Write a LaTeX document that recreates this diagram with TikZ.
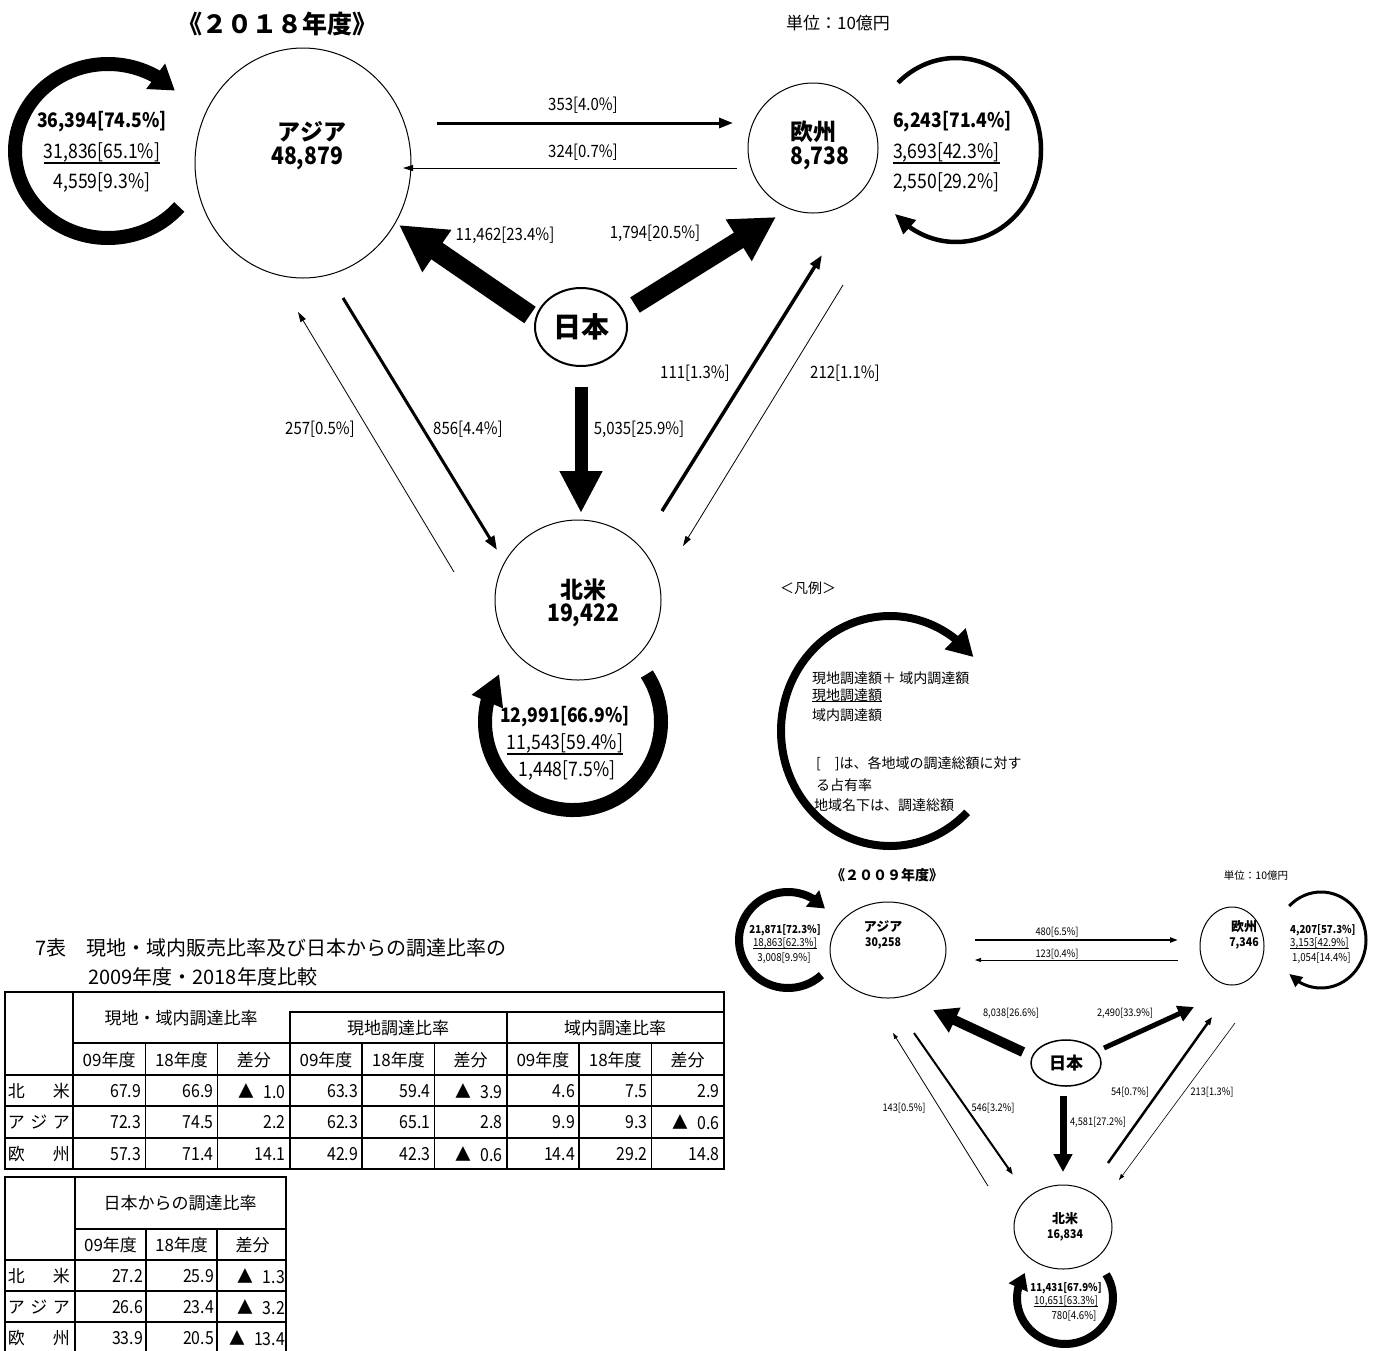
\documentclass[tikz,border=0pt]{standalone}
\usepackage{fontspec}
\usepackage{tikz}
\usetikzlibrary{arrows.meta, bending, shapes.geometric}
\setmainfont{Noto Sans CJK JP}
\newfontfamily\numfont[FakeStretch=0.88]{Noto Sans CJK JP}
\newcommand{\fsz}[1]{\fontsize{#1}{#1}\selectfont}
\newcommand{\dn}{▲\enskip}

\begin{document}
\begin{tikzpicture}[x=1pt, y=-1pt,
        region/.style={draw, ellipse, inner sep=0pt, line width=1pt},
        flow/.style n args={3}{line width=#1, -{Triangle[length=#2, width=#3]}},
        ulLine/.style={line width=1.8pt},
        tabLine/.style={line width=1.6pt},
        tabOuter/.style={line width=2.6pt},
        nameTxt/.style={inner sep=0pt, font={\bfseries\fsz{23}}},
        valTxt/.style={inner sep=0pt, font={\numfont\bfseries\fsz{24}}},
        edgeLbl/.style={inner sep=0pt, font={\numfont\fsz{17}}},
        loopTxt/.style={inner sep=0pt, font={\numfont\fsz{20}}},
        loopBold/.style={inner sep=0pt, font={\numfont\bfseries\fsz{20}}},
        smallName/.style={inner sep=0pt, font={\bfseries\fsz{13}}},
        smallVal/.style={inner sep=0pt, font={\numfont\bfseries\fsz{12}}},
        smallLbl/.style={inner sep=0pt, font={\numfont\fsz{10.5}}},
        smallLoop/.style={inner sep=0pt, font={\numfont\fsz{11}}},
        smallBold/.style={inner sep=0pt, font={\numfont\bfseries\fsz{11}}},
        legendTxt/.style={inner sep=0pt, anchor=west, font=\fsz{14}},
        tabTxt/.style={inner sep=0pt, font=\fsz{17}},
        tabNum/.style={inner sep=0pt, anchor=east, font={\numfont\fsz{18}}}
    ]
        \useasboundingbox (0,0) rectangle (1381,1350);

        % ---------- 2018 ----------
        \node[inner sep=0pt, font={\bfseries\fsz{25}}] (title18) at (277,24) {《２０１８年度》};
        \node[inner sep=0pt, font=\fsz{17}] (unit18) at (838,23) {単位：10億円};

        % Regions
        \node[region, minimum width=216pt, minimum height=230pt] (asia) at (303,163) {};
        \node[region, minimum width=130pt, minimum height=130pt] (eu) at (813,148) {};
        \node[region, line width=2pt, minimum width=92pt, minimum height=78pt, font={\bfseries\fsz{28}}] (jp) at (581,327) {日本};
        \node[region, minimum width=166pt, minimum height=160pt] (na) at (578,600) {};

        \node[nameTxt] (asiaN) at (312,132) {アジア};
        \node[valTxt] (asiaV) at (307,158) {48,879};
        \node[nameTxt] (euN) at (813,132) {欧州};
        \node[valTxt] (euV) at (820,158) {8,738};
        \node[nameTxt] (naN) at (583,590) {北米};
        \node[valTxt] (naV) at (583,615) {19,422};

        % Flows from Japan and between regions
        \draw[flow={20pt}{46pt}{48pt}] ([shift={(-51,-12)}]jp.center) -- ([shift={(96,62)}]asia.center);
        \draw[flow={18pt}{44pt}{46pt}] ([shift={(54,-22)}]jp.center) -- ([shift={(-37,69)}]eu.center);
        \draw[flow={13pt}{42pt}{40pt}] ([shift={(0,60)}]jp.center) -- ([shift={(3,-87)}]na.center);
        \draw[flow={3pt}{14pt}{10pt}] ([shift={(134,-40)}]asia.center) -- ([shift={(-80,-25)}]eu.center);
        \draw[flow={1pt}{10pt}{6pt}] ([shift={(-76,20)}]eu.center) -- ([shift={(100,5)}]asia.center);
        \draw[flow={3pt}{14pt}{10pt}] ([shift={(40,135)}]asia.center) -- ([shift={(-81,-50)}]na.center);
        \draw[flow={0.8pt}{10pt}{6pt}] ([shift={(-124,-28)}]na.center) -- ([shift={(-5,149)}]asia.center);
        \draw[flow={3.5pt}{14pt}{10pt}] ([shift={(84,-89)}]na.center) -- ([shift={(9,107)}]eu.center);
        \draw[flow={0.8pt}{10pt}{6pt}] ([shift={(30,137)}]eu.center) -- ([shift={(105,-54)}]na.center);

        \node[edgeLbl] (l1) at (505,235) {11,462[23.4\%]};
        \node[edgeLbl] (l2) at (655,233) {1,794[20.5\%]};
        \node[edgeLbl] (l3) at (639,429) {5,035[25.9\%]};
        \node[edgeLbl] (l4) at (583,105) {353[4.0\%]};
        \node[edgeLbl] (l5) at (583,152) {324[0.7\%]};
        \node[edgeLbl] (l6) at (468,429) {856[4.4\%]};
        \node[edgeLbl] (l7) at (320,429) {257[0.5\%]};
        \node[edgeLbl] (l8) at (695,373) {111[1.3\%]};
        \node[edgeLbl] (l9) at (845,373) {212[1.1\%]};

        % Loops (local + intra-regional)
        \draw[flow={14pt}{24pt}{30pt}] (108,151) ++(40:93 and 87) arc[start angle=40, end angle=316, x radius=93, y radius=87];
        \draw[flow={4.5pt}{20pt}{18pt}] (956,150) ++(227:85 and 92) arc[start angle=227, end angle=496, x radius=85, y radius=92];
        \draw[flow={14pt}{30pt}{32pt}] (573,722) ++(-33:88 and 88) arc[start angle=-33, end angle=213, x radius=88, y radius=88];

        \node[loopBold] (asiaL1) at (102,122) {36,394[74.5\%]};
        \node[loopTxt] (asiaL2) at (102,152) {31,836[65.1\%]};
        \node[loopTxt] (asiaL3) at (102,182) {4,559[9.3\%]};
        \draw[ulLine] ([yshift=-1pt]asiaL2.south west) -- ([yshift=-1pt]asiaL2.south east);

        \node[loopBold, anchor=west] (euL1) at (893,122) {6,243[71.4\%]};
        \node[loopTxt, anchor=west] (euL2) at (893,152) {3,693[42.3\%]};
        \node[loopTxt, anchor=west] (euL3) at (893,182) {2,550[29.2\%]};
        \draw[ulLine] ([yshift=-1pt]euL2.south west) -- ([yshift=-1pt]euL2.south east);

        \node[loopBold] (naL1) at (565,717) {12,991[66.9\%]};
        \node[loopTxt] (naL2) at (565,743) {11,543[59.4\%]};
        \node[loopTxt] (naL3) at (567,770) {1,448[7.5\%]};
        \draw[ulLine] ([yshift=-1pt]naL2.south west) -- ([yshift=-1pt]naL2.south east);

        % ---------- Legend ----------
        \node[inner sep=0pt, font=\fsz{14}] (lgHead) at (808,588) {＜凡例＞};
        \draw[flow={8pt}{26pt}{28pt}] (890,731) ++(45:109 and 115) arc[start angle=45, end angle=320, x radius=109, y radius=115];
        \node[legendTxt] (lg1) at (812,678) {現地調達額＋ 域内調達額};
        \node[legendTxt] (lg2) at (812,695) {現地調達額};
        \draw[line width=1.4pt] (lg2.south west) -- (lg2.south east);
        \node[legendTxt] (lg3) at (812,715) {域内調達額};
        \node[legendTxt] (lg4) at (816,764) {[　]は、各地域の調達総額に対す};
        \node[legendTxt] (lg5) at (816,785) {る占有率};
        \node[legendTxt] (lg6) at (814,805) {地域名下は、調達総額};

        % ---------- 2009 ----------
        \node[inner sep=0pt, font={\bfseries\fsz{14}}] (title09) at (887,875) {《２００９年度》};
        \node[inner sep=0pt, font=\fsz{10.5}] (unit09) at (1256,875) {単位：10億円};

        \node[region, minimum width=116pt, minimum height=96pt] (asia9) at (888,950) {};
        \node[region, minimum width=64pt, minimum height=78pt] (eu9) at (1232,946) {};
        \node[region, line width=1.5pt, minimum width=70pt, minimum height=46pt, font={\bfseries\fsz{17}}] (jp9) at (1066,1063) {日本};
        \node[region, minimum width=98pt, minimum height=84pt] (na9) at (1063,1227) {};

        \node[smallName] (asia9N) at (883,927) {アジア};
        \node[smallVal] (asia9V) at (883,943) {30,258};
        \node[smallName] (eu9N) at (1244,927) {欧州};
        \node[smallVal] (eu9V) at (1244,943) {7,346};
        \node[smallName] (na9N) at (1065,1219) {北米};
        \node[smallVal] (na9V) at (1065,1235) {16,834};

        \draw[flow={10pt}{24pt}{26pt}] ([shift={(-43,-11)}]jp9.center) -- ([shift={(45,60)}]asia9.center);
        \draw[flow={5pt}{16pt}{16pt}] ([shift={(38,-15)}]jp9.center) -- ([shift={(-38,61)}]eu9.center);
        \draw[flow={7pt}{18pt}{18pt}] ([shift={(-3,33)}]jp9.center) -- ([shift={(0,-55)}]na9.center);
        \draw[flow={2pt}{8pt}{5pt}] ([shift={(87,-10)}]asia9.center) -- ([shift={(-54,-6)}]eu9.center);
        \draw[flow={0.7pt}{6pt}{4pt}] ([shift={(-54,14)}]eu9.center) -- ([shift={(87,10)}]asia9.center);
        \draw[flow={2pt}{8pt}{5pt}] ([shift={(26,83)}]asia9.center) -- ([shift={(-50,-52)}]na9.center);
        \draw[flow={0.8pt}{6pt}{4pt}] ([shift={(-75,-41)}]na9.center) -- ([shift={(5,83)}]asia9.center);
        \draw[flow={2.5pt}{8pt}{6pt}] ([shift={(45,-64)}]na9.center) -- ([shift={(-20,71)}]eu9.center);
        \draw[flow={0.6pt}{6pt}{4pt}] ([shift={(3,77)}]eu9.center) -- ([shift={(56,-47)}]na9.center);

        \node[smallLbl] (m1) at (1057,932) {480[6.5\%]};
        \node[smallLbl] (m2) at (1057,954) {123[0.4\%]};
        \node[smallLbl] (m3) at (1011,1013) {8,038[26.6\%]};
        \node[smallLbl] (m4) at (1125,1013) {2,490[33.9\%]};
        \node[smallLbl] (m5) at (904,1108) {143[0.5\%]};
        \node[smallLbl] (m6) at (993,1108) {546[3.2\%]};
        \node[smallLbl] (m7) at (1098,1122) {4,581[27.2\%]};
        \node[smallLbl] (m8) at (1130,1092) {54[0.7\%]};
        \node[smallLbl] (m9) at (1212,1092) {213[1.3\%]};

        \draw[flow={8pt}{16pt}{20pt}] (788,940) ++(47:49 and 48) arc[start angle=47, end angle=319, x radius=49, y radius=48];
        \draw[flow={3pt}{13pt}{12pt}] (1321,940) ++(225:45 and 48) arc[start angle=225, end angle=495, x radius=45, y radius=48];
        \draw[flow={8pt}{16pt}{20pt}] (1065,1298) ++(-31:48 and 46) arc[start angle=-31, end angle=213, x radius=48, y radius=46];

        \node[smallBold] (asia9L1) at (785,930) {21,871[72.3\%]};
        \node[smallLoop] (asia9L2) at (785,943) {18,863[62.3\%]};
        \node[smallLoop] (asia9L3) at (784,958) {3,008[9.9\%]};
        \draw[line width=1pt] (asia9L2.south west) -- (asia9L2.south east);

        \node[smallBold, anchor=west] (eu9L1) at (1290,930) {4,207[57.3\%]};
        \node[smallLoop, anchor=west] (eu9L2) at (1290,943) {3,153[42.9\%]};
        \node[smallLoop, anchor=west] (eu9L3) at (1292,958) {1,054[14.4\%]};
        \draw[line width=1pt] (eu9L2.south west) -- (eu9L2.south east);

        \node[smallBold] (na9L1) at (1066,1288) {11,431[67.9\%]};
        \node[smallLoop] (na9L2) at (1066,1301) {10,651[63.3\%]};
        \node[smallLoop] (na9L3) at (1074,1316) {780[4.6\%]};
        \draw[line width=1pt] (na9L2.south west) -- (na9L2.south east);

        % ---------- Table 7 ----------
        \node[inner sep=0pt, anchor=west, font=\fsz{20}] (tabTitle1) at (35,948) {7表　現地・域内販売比率及び日本からの調達比率の};
        \node[inner sep=0pt, anchor=west, font=\fsz{20}] (tabTitle2) at (88,977) {2009年度・2018年度比較};

        \draw[tabOuter] (5,992) rectangle (724,1169);
        \draw[tabLine] (73,992) -- (73,1169);
        \draw[tabLine] (289,1012) -- (724,1012);
        \draw[tabLine] (73,1043) -- (724,1043);
        \foreach \yy in {1075,1106,1138}
            \draw[tabLine] (5,\yy) -- (724,\yy);
        \foreach \k in {1,2,4,5,7,8}
            \draw[tabLine] ({73+72.3*\k},1043) -- ({73+72.3*\k},1169);
        \foreach \k in {3,6}
            \draw[tabLine] ({73+72.3*\k},1012) -- ({73+72.3*\k},1169);

        \node[tabTxt] (t1g1) at (181,1018) {現地・域内調達比率};
        \node[tabTxt] (t1g2) at (398,1028) {現地調達比率};
        \node[tabTxt] (t1g3) at (615,1028) {域内調達比率};
        \foreach \h [count=\k] in {09年度,18年度,差分,09年度,18年度,差分,09年度,18年度,差分}
            \node[tabTxt] (t1h\k) at ({73+72.3*(\k-0.5)},1060) {\h};

        \foreach \yy/\lab/\vals [count=\r] in {
                1091/{北\hfill 米}/{67.9,66.9,\dn 1.0,63.3,59.4,\dn 3.9,4.6,7.5,2.9},
                1122/{ア\hfill ジ\hfill ア}/{72.3,74.5,2.2,62.3,65.1,2.8,9.9,9.3,\dn 0.6},
                1154/{欧\hfill 州}/{57.3,71.4,14.1,42.9,42.3,\dn 0.6,14.4,29.2,14.8}}{
            \node[tabTxt, text width=62pt, align=left] (t1lab\r) at (39,\yy) {\lab};
            \foreach \v [count=\k] in \vals
                \node[tabNum] (t1c\r-\k) at ({69+72.3*\k},\yy) {\v};
        }

        % Procurement from Japan
        \draw[tabOuter] (5,1177) rectangle (286,1353);
        \draw[tabLine] (75,1177) -- (75,1353);
        \draw[tabLine] (75,1229) -- (286,1229);
        \foreach \yy in {1260,1291,1322}
            \draw[tabLine] (5,\yy) -- (286,\yy);
        \foreach \k in {1,2}
            \draw[tabLine] ({75+71*\k},1229) -- ({75+71*\k},1353);

        \node[tabTxt] (t2g1) at (180,1203) {日本からの調達比率};
        \foreach \h [count=\k] in {09年度,18年度,差分}
            \node[tabTxt] (t2h\k) at ({75+71*(\k-0.5)},1245) {\h};

        \foreach \yy/\lab/\vals [count=\r] in {
                1276/{北\hfill 米}/{27.2,25.9,\dn 1.3},
                1307/{ア\hfill ジ\hfill ア}/{26.6,23.4,\dn 3.2},
                1338/{欧\hfill 州}/{33.9,20.5,\dn 13.4}}{
            \node[tabTxt, text width=62pt, align=left] (t2lab\r) at (39,\yy) {\lab};
            \foreach \v [count=\k] in \vals
                \node[tabNum] (t2c\r-\k) at ({72+71*\k},\yy) {\v};
        }
    \end{tikzpicture}
\end{document}
